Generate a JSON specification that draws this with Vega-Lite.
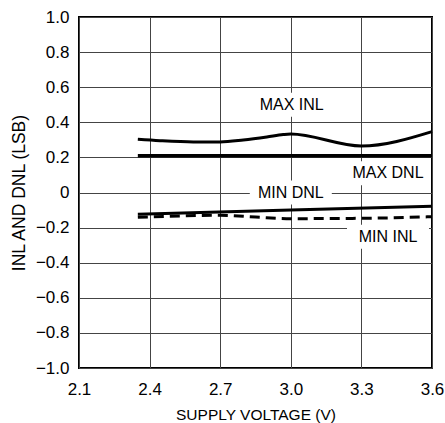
{
  "$schema": "https://vega.github.io/schema/vega-lite/v6.json",
  "autosize": {"type": "none"},
  "width": 353,
  "height": 351,
  "padding": {"left": 79, "top": 17, "right": 13, "bottom": 55},
  "background": "white",
  "config": {
    "font": "Liberation Sans",
    "view": {"stroke": "black", "strokeWidth": 2},
    "axis": {"grid": true, "gridColor": "#444", "gridWidth": 1, "gridOpacity": 1, "ticks": false, "domain": false, "labelColor": "black", "titleColor": "black", "labelFont": "Liberation Sans", "titleFont": "Liberation Sans", "titleFontWeight": "normal"}
  },
  "datasets": {
    "curves": [
      {"series": "MAX INL", "v": 2.35, "value": 0.303},
      {"series": "MAX INL", "v": 2.444, "value": 0.295},
      {"series": "MAX INL", "v": 2.586, "value": 0.288},
      {"series": "MAX INL", "v": 2.7, "value": 0.288},
      {"series": "MAX INL", "v": 2.798, "value": 0.299},
      {"series": "MAX INL", "v": 2.898, "value": 0.316},
      {"series": "MAX INL", "v": 2.968, "value": 0.33},
      {"series": "MAX INL", "v": 3.0, "value": 0.333},
      {"series": "MAX INL", "v": 3.3, "value": 0.265},
      {"series": "MAX INL", "v": 3.6, "value": 0.347},
      {"series": "MAX DNL", "v": 2.35, "value": 0.21},
      {"series": "MAX DNL", "v": 3.6, "value": 0.21},
      {"series": "MIN DNL", "v": 2.35, "value": -0.124},
      {"series": "MIN DNL", "v": 3.0, "value": -0.1},
      {"series": "MIN DNL", "v": 3.6, "value": -0.079},
      {"series": "MIN INL", "v": 2.35, "value": -0.1415},
      {"series": "MIN INL", "v": 2.7, "value": -0.13},
      {"series": "MIN INL", "v": 2.85, "value": -0.14},
      {"series": "MIN INL", "v": 3.0, "value": -0.149},
      {"series": "MIN INL", "v": 3.3, "value": -0.147},
      {"series": "MIN INL", "v": 3.6, "value": -0.138}
    ],
    "labels": [
      {"label": "MAX INL", "v": 3.004, "value": 0.5},
      {"label": "MAX DNL", "v": 3.413, "value": 0.109},
      {"label": "MIN DNL", "v": 3.0, "value": 0.0},
      {"label": "MIN INL", "v": 3.413, "value": -0.252}
    ]
  },
  "encoding": {
    "x": {"field": "v", "type": "quantitative",
      "scale": {"domain": [2.1, 3.6], "nice": false, "zero": false},
      "axis": {"title": "SUPPLY VOLTAGE (V)", "values": [2.1, 2.4, 2.7, 3.0, 3.3, 3.6], "format": ".1f", "labelFontSize": 17, "titleFontSize": 15.5, "labelPadding": 13, "titlePadding": 10, "labelFlush": false}},
    "y": {"field": "value", "type": "quantitative",
      "scale": {"domain": [-1, 1], "nice": false},
      "axis": {"title": "INL AND DNL (LSB)", "values": [-1, -0.8, -0.6, -0.4, -0.2, 0, 0.2, 0.4, 0.6, 0.8, 1], "labelExpr": "datum.value == 0 ? '0' : format(datum.value, '.1f')", "labelFontSize": 17, "titleFontSize": 17.5, "labelPadding": 10, "titlePadding": 7, "labelFlush": false}}
  },
  "layer": [
    {"data": {"name": "labels"}, "mark": {"type": "rect", "width": 82, "height": 24, "fill": "white"}},
    {"data": {"name": "curves"}, "transform": [{"filter": "datum.series == 'MAX INL'"}], "mark": {"type": "line", "color": "black", "strokeWidth": 3, "interpolate": "monotone"}},
    {"data": {"name": "curves"}, "transform": [{"filter": "datum.series == 'MAX DNL'"}], "mark": {"type": "line", "color": "black", "strokeWidth": 3.5}},
    {"data": {"name": "curves"}, "transform": [{"filter": "datum.series == 'MIN DNL'"}], "mark": {"type": "line", "color": "black", "strokeWidth": 3}},
    {"data": {"name": "curves"}, "transform": [{"filter": "datum.series == 'MIN INL'"}], "mark": {"type": "line", "color": "black", "strokeWidth": 3, "strokeDash": [10, 6], "interpolate": "monotone"}},
    {"data": {"name": "labels"}, "mark": {"type": "text", "fontSize": 16, "color": "black", "align": "center", "baseline": "middle"}, "encoding": {"text": {"field": "label"}}}
  ]
}
